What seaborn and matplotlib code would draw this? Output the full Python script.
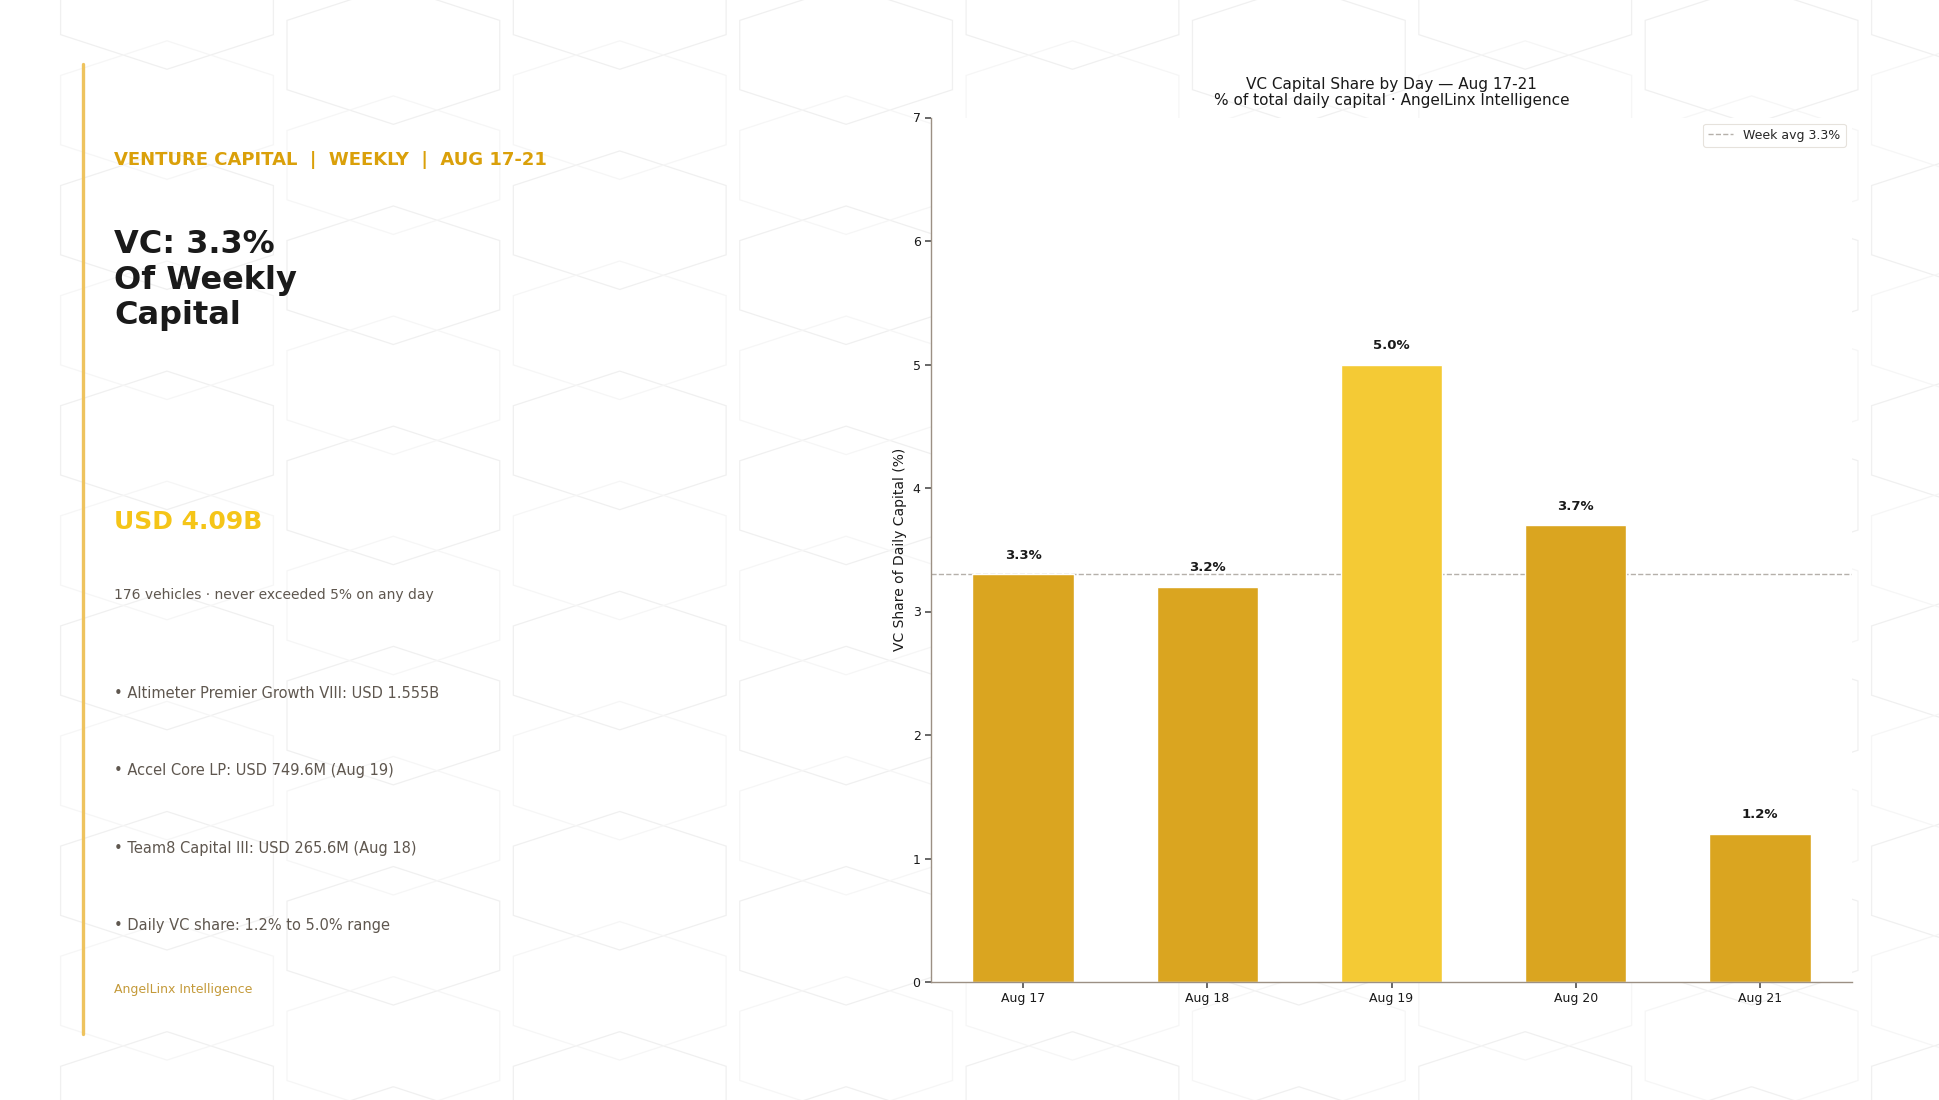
import matplotlib
matplotlib.use("Agg")
import matplotlib.pyplot as plt
import seaborn as sns
import numpy as np
from matplotlib.patches import Polygon

# ---- data ----
days = ["Aug 17", "Aug 18", "Aug 19", "Aug 20", "Aug 21"]
vc_share = [3.3, 3.2, 5.0, 3.7, 1.2]
week_avg = 3.3
highlight_day = "Aug 19"
bullets = [
    "• Altimeter Premier Growth VIII: USD 1.555B",
    "• Accel Core LP: USD 749.6M (Aug 19)",
    "• Team8 Capital III: USD 265.6M (Aug 18)",
    "• Daily VC share: 1.2% to 5.0% range",
]

GOLD = "#DAA520"
GOLD_HI = "#F4CA35"
TXT_GRAY = "#5f574f"

sns.set_theme(style="white")
plt.rcParams["font.family"] = ["DejaVu Sans"]

W, H = 1940, 1100
fig = plt.figure(figsize=(W / 100, H / 100), dpi=100)
fig.patch.set_facecolor("white")

# ---- decorative hex background ----
bg = fig.add_axes([0, 0, 1, 1], zorder=-10)
bg.set_xlim(0, W)
bg.set_ylim(H, 0)
bg.axis("off")
s = 1.237
hw, hh = 86 * s, 56 * s


def hexagon(cx, cy, color):
    pts = [(cx, cy - hh), (cx + hw, cy - hh / 2), (cx + hw, cy + hh / 2),
           (cx, cy + hh), (cx - hw, cy + hh / 2), (cx - hw, cy - hh / 2)]
    bg.add_patch(Polygon(pts, closed=True, fill=False, ec=color, lw=0.9))


for ci, cx in enumerate(np.arange(135, 1600, 183) * s):
    off = 0 if ci % 2 == 0 else 44.5 * s
    for cy in np.arange(0, 950, 178) * s + off:
        hexagon(cx, cy, "#f0f0f0")
    for cy in np.arange(89, 950, 178) * s + off:
        hexagon(cx, cy, "#f6f6f6")

# ---- left panel ----
fig.add_artist(plt.Line2D([83 / W, 83 / W], [1 - 64 / H, 1 - 1034 / H],
                          color="#EEC35E", lw=2.4, transform=fig.transFigure))
x0 = 114 / W
fig.text(x0, 1 - 160 / H, "VENTURE CAPITAL  |  WEEKLY  |  AUG 17-21",
         color="#DAA00A", fontsize=13, fontweight="bold", va="center")
fig.text(x0, 1 - 280 / H, "VC: 3.3%\nOf Weekly\nCapital", color="#1a1a1a",
         fontsize=23, fontweight="bold", va="center", linespacing=1.2)
fig.text(x0, 1 - 522 / H, "USD 4.09B", color="#F5C518", fontsize=18,
         fontweight="bold", va="center")
fig.text(x0, 1 - 595 / H, "176 vehicles · never exceeded 5% on any day",
         color=TXT_GRAY, fontsize=10, va="center")
for i, b in enumerate(bullets):
    fig.text(x0, 1 - (693 + 77.5 * i) / H, b, color=TXT_GRAY, fontsize=10.5,
             va="center")
fig.text(x0, 1 - 990 / H, "AngelLinx Intelligence", color="#C49A3A",
         fontsize=9, va="center")

# ---- chart ----
ax = fig.add_axes([931 / W, 1 - 982 / H, (1852 - 931) / W, (982 - 117.5) / H])
ax.set_facecolor("white")
palette = {d: (GOLD_HI if d == highlight_day else GOLD) for d in days}
sns.barplot(x=days, y=vc_share, hue=days, palette=palette, legend=False,
            width=0.55, ax=ax, saturation=1)
ax.axhline(week_avg, ls="--", color="#b5b0aa", lw=1.0,
           label=f"Week avg {week_avg:.1f}%", zorder=0.5)
for i, v in enumerate(vc_share):
    ax.text(i, v + 0.1, f"{v:.1f}%", ha="center", va="bottom",
            fontsize=9.5, fontweight="bold", color="#1a1a1a")
ax.set_ylim(0, 7)
ax.set_xlim(-0.5, 4.5)
ax.set_yticks(range(0, 8))
ax.set_ylabel("VC Share of Daily Capital (%)", fontsize=10, color="#1a1a1a")
ax.set_xlabel("")
ax.set_title("VC Capital Share by Day — Aug 17-21\n% of total daily capital · AngelLinx Intelligence",
             fontsize=11, color="#1a1a1a", pad=9, linespacing=1.05)
for sp in ["top", "right"]:
    ax.spines[sp].set_visible(False)
for sp in ["left", "bottom"]:
    ax.spines[sp].set_color("#9c9084")
    ax.spines[sp].set_linewidth(1.0)
ax.tick_params(axis="both", labelsize=9, colors="#1a1a1a", length=4,
               left=True, bottom=True, color="#555555")
leg = ax.legend(loc="upper right", fontsize=9, frameon=True, framealpha=1,
                edgecolor="#e6e2dc")
leg.get_frame().set_linewidth(0.8)

fig.savefig("out.png", dpi=100, facecolor="white")
